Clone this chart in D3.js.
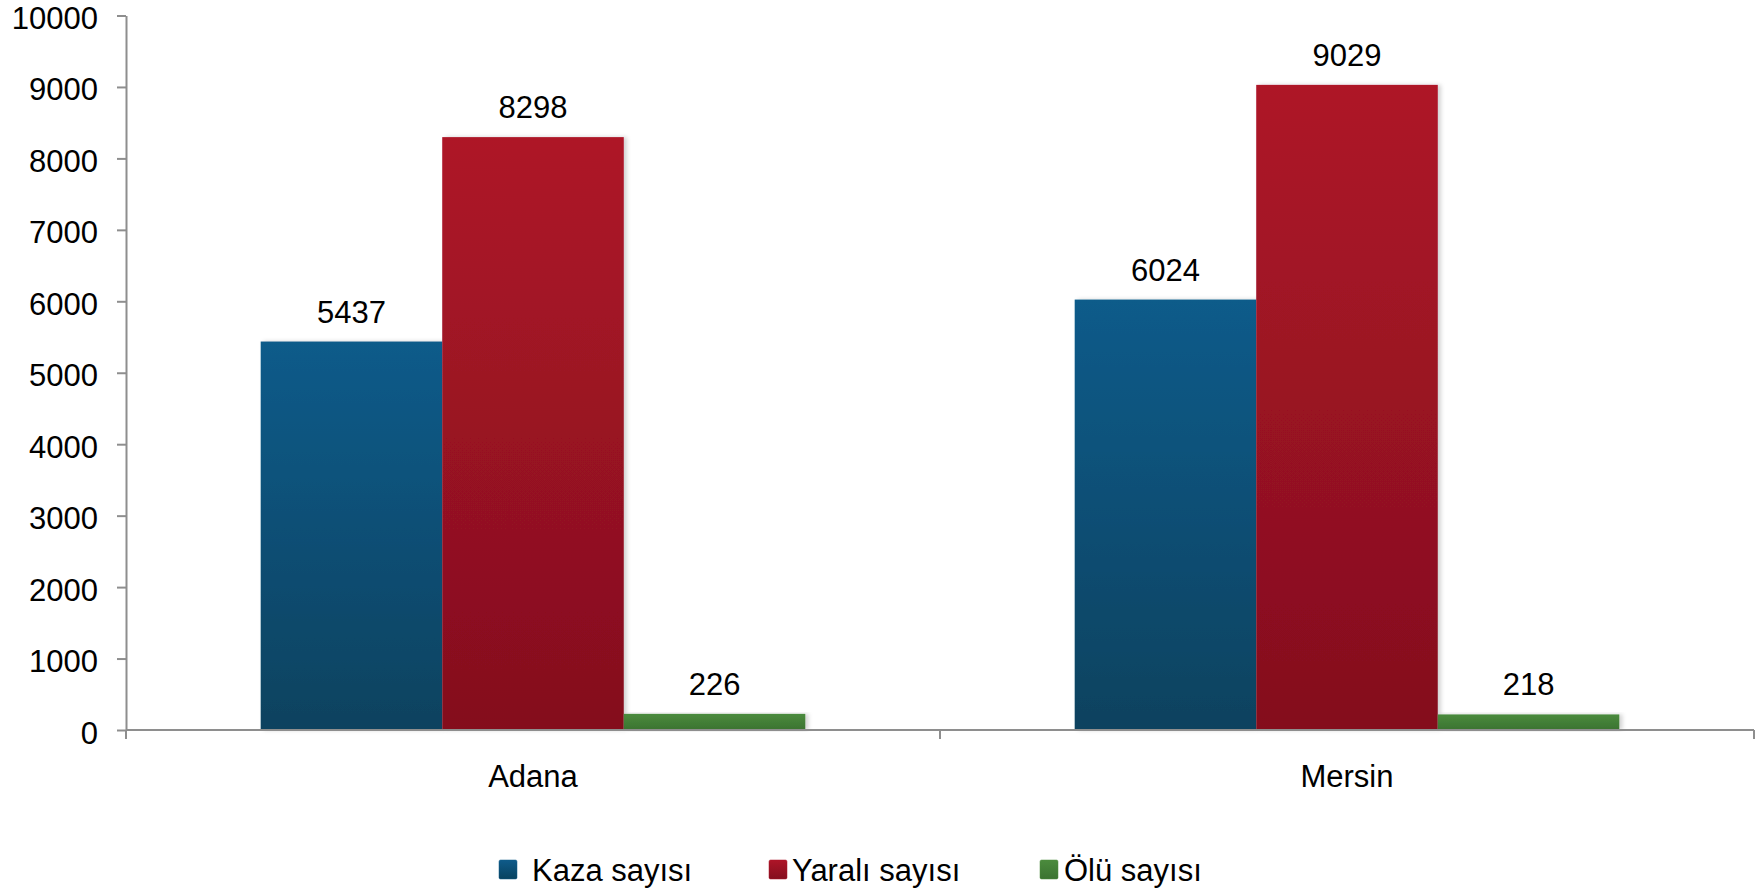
<!DOCTYPE html>
<html>
<head>
<meta charset="utf-8">
<script src="https://cdn.jsdelivr.net/npm/d3@7"></script>
<style>
  body { margin: 0; background: #fff; }
  text { font-family: "Liberation Sans", Arial, sans-serif; fill: #000; }
</style>
</head>
<body>
<div class="canvas"></div>
<script>
const categories = ['Adana', 'Mersin'];
const seriesNames = ['Kaza sayısı', 'Yaralı sayısı', 'Ölü sayısı'];
const kaza = [5437, 6024];
const yarali = [8298, 9029];
const olu = [226, 218];
const yTicks = [0, 1000, 2000, 3000, 4000, 5000, 6000, 7000, 8000, 9000, 10000];

const seriesValues = [kaza, yarali, olu];
const gradColors = [
  ['#0f5b8a', '#07425f'],
  ['#ae1528', '#840f1e'],
  ['#4b8b3d', '#3b7331'],
];

const width = 1761;
const height = 893;
const plotLeft = 126;
const plotRight = 1754;
const plotTop = 15.5;
const plotBottom = 730;
const fontSize = 31;

const svg = d3
  .select('.canvas')
  .append('svg')
  .attr('width', width)
  .attr('height', height);

const defs = svg.append('defs');
gradColors.forEach((c, i) => {
  const g = defs
    .append('linearGradient')
    .attr('id', `grad${i}`)
    .attr('x1', 0)
    .attr('y1', 0)
    .attr('x2', 0)
    .attr('y2', 1);
  g.append('stop').attr('offset', '0%').attr('stop-color', c[0]);
  g.append('stop').attr('offset', '100%').attr('stop-color', c[1]);
});
defs
  .append('filter')
  .attr('id', 'shadow')
  .attr('x', '-10%')
  .attr('y', '-10%')
  .attr('width', '130%')
  .attr('height', '120%')
  .append('feDropShadow')
  .attr('dx', 3)
  .attr('dy', 0)
  .attr('stdDeviation', 2)
  .attr('flood-color', '#000')
  .attr('flood-opacity', 0.18);

const y = d3.scaleLinear().domain([0, 10000]).range([plotBottom, plotTop]);
const x0 = d3.scaleBand().domain(categories).range([plotLeft, plotRight]).padding(0);
const x1 = d3
  .scaleBand()
  .domain(d3.range(seriesNames.length))
  .range([0, x0.bandwidth()])
  .paddingInner(0)
  .paddingOuter(0.742);

// bars
const barData = [];
categories.forEach((cat, ci) => {
  seriesValues.forEach((vals, si) => {
    barData.push({ cat, si, value: vals[ci] });
  });
});

const barGroup = svg.append('g').attr('id', 'bars');
barGroup
  .selectAll('rect')
  .data(barData)
  .join('rect')
  .attr('x', d => x0(d.cat) + x1(d.si))
  .attr('y', d => y(d.value))
  .attr('width', x1.bandwidth())
  .attr('height', d => y(0) - y(d.value))
  .attr('fill', d => `url(#grad${d.si})`)
  .attr('filter', 'url(#shadow)');

barGroup
  .selectAll('text')
  .data(barData)
  .join('text')
  .attr('x', d => x0(d.cat) + x1(d.si) + x1.bandwidth() / 2)
  .attr('y', d => y(d.value) - 19)
  .attr('text-anchor', 'middle')
  .attr('font-size', fontSize)
  .text(d => d.value);

// y axis
const yAxis = svg
  .append('g')
  .attr('transform', `translate(${plotLeft},0)`)
  .call(
    d3
      .axisLeft(y)
      .tickValues(yTicks)
      .tickFormat(d3.format('d'))
      .tickSize(9)
      .tickPadding(19)
      .tickSizeOuter(0)
  );
yAxis.selectAll('path, line').attr('stroke', '#8e8e8e').attr('stroke-width', 2);
yAxis
  .selectAll('text')
  .attr('font-size', fontSize)
  .attr('fill', '#000')
  .attr('dy', '0.42em');

// x axis
const xAxis = svg.append('g').attr('transform', `translate(0,${plotBottom})`);
xAxis
  .append('line')
  .attr('x1', plotLeft)
  .attr('x2', plotRight)
  .attr('stroke', '#8e8e8e')
  .attr('stroke-width', 2);
const edges = categories.map(c => x0(c)).concat([x0(categories[categories.length - 1]) + x0.step()]);
xAxis
  .selectAll('line.tick')
  .data(edges)
  .join('line')
  .attr('class', 'tick')
  .attr('x1', d => d)
  .attr('x2', d => d)
  .attr('y1', 0)
  .attr('y2', 9)
  .attr('stroke', '#8e8e8e')
  .attr('stroke-width', 2);
xAxis
  .selectAll('text')
  .data(categories)
  .join('text')
  .attr('x', d => x0(d) + x0.bandwidth() / 2)
  .attr('y', 57)
  .attr('text-anchor', 'middle')
  .attr('font-size', fontSize)
  .text(d => d);

// legend
const legendX = [499, 769, 1040];
const textGap = [15, 5, 6];
const legend = svg.append('g').attr('id', 'legend');
const items = legend
  .selectAll('g')
  .data(seriesNames)
  .join('g')
  .attr('transform', (d, i) => `translate(${legendX[i]},860)`);
items
  .append('rect')
  .attr('width', 18)
  .attr('height', 19)
  .attr('rx', 1.5)
  .attr('fill', (d, i) => `url(#grad${i})`)
  .attr('stroke', (d, i) => gradColors[i][0])
  .attr('stroke-opacity', 0.5);
items
  .append('text')
  .attr('x', (d, i) => 18 + textGap[i])
  .attr('y', 21)
  .attr('font-size', fontSize)
  .text(d => d);
</script>
</body>
</html>
